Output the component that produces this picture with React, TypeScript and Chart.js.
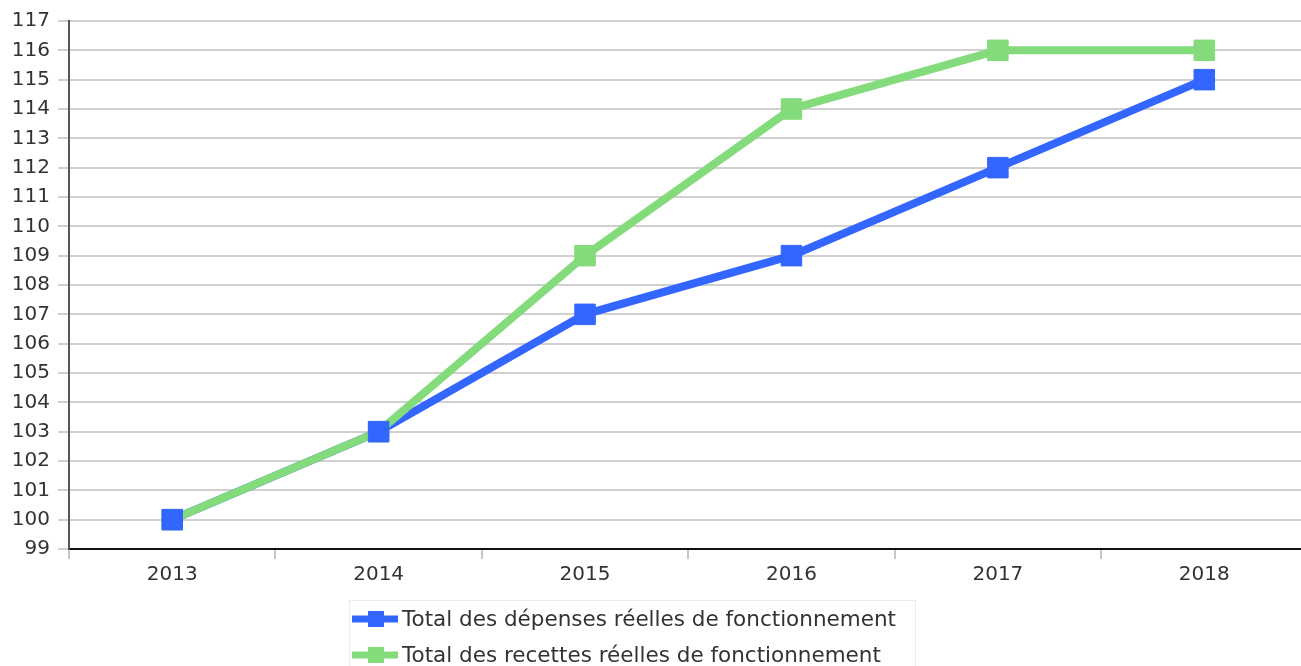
import React, { useEffect, useRef } from "react";
import { Chart, registerables } from "chart.js";

Chart.register(...registerables);

// Years on the horizontal axis
const CATEGORIES: string[] = ["2013", "2014", "2015", "2016", "2017", "2018"];

// Index base 100 in 2013
const DEPENSES: number[] = [100, 103, 107, 109, 112, 115];
const RECETTES: number[] = [100, 103, 109, 114, 116, 116];

const LABEL_DEPENSES = "Total des dépenses réelles de fonctionnement";
const LABEL_RECETTES = "Total des recettes réelles de fonctionnement";

const Y_MIN = 99;
const Y_MAX = 117;

const BLUE = "#3366FF";
const GREEN = "#84DB7B";
const FONT = "'DejaVu Sans', sans-serif";
const TEXT = "#333333";

// Legend drawn as a stacked box under the plot
const legendPlugin = {
  id: "stackedLegend",
  afterDraw(chart: any) {
    const ctx: CanvasRenderingContext2D = chart.ctx;
    const items = [
      { label: LABEL_DEPENSES, color: BLUE },
      { label: LABEL_RECETTES, color: GREEN },
    ];
    const left = 349;
    const top = 600;
    ctx.save();
    ctx.strokeStyle = "#ececec";
    ctx.lineWidth = 1;
    ctx.strokeRect(left + 0.5, top + 0.5, 566, 90);
    ctx.font = `21.5px ${FONT}`;
    ctx.textBaseline = "middle";
    ctx.textAlign = "left";
    items.forEach((it, i) => {
      const cy = top + 19 + i * 36;
      ctx.fillStyle = it.color;
      ctx.fillRect(left + 3, cy - 3.5, 46, 7);
      ctx.fillRect(left + 19, cy - 8, 16, 16);
      ctx.fillStyle = TEXT;
      ctx.fillText(it.label, left + 53, cy + 1);
    });
    ctx.restore();
  },
};

export default function App() {
  const canvasRef = useRef<HTMLCanvasElement | null>(null);

  useEffect(() => {
    if (!canvasRef.current) return;
    Chart.defaults.font.family = FONT;
    const chart = new Chart(canvasRef.current, {
      type: "line",
      data: {
        labels: CATEGORIES,
        datasets: [
          {
            label: LABEL_DEPENSES,
            data: DEPENSES,
            borderColor: BLUE,
            backgroundColor: BLUE,
            borderWidth: 8,
            pointRadius: 0,
            pointHoverRadius: 0,
            tension: 0,
            order: 3,
          },
          {
            label: LABEL_RECETTES,
            data: RECETTES,
            borderColor: GREEN,
            backgroundColor: GREEN,
            borderWidth: 8,
            pointStyle: "rect",
            pointRadius: 14.5,
            pointBorderWidth: 1,
            pointBorderColor: GREEN,
            pointBackgroundColor: GREEN,
            tension: 0,
            order: 2,
          },
          {
            // markers of the expenses series, kept above every line
            label: LABEL_DEPENSES + " (marqueurs)",
            data: DEPENSES,
            showLine: false,
            borderColor: BLUE,
            backgroundColor: BLUE,
            pointStyle: "rect",
            pointRadius: 14.5,
            pointBorderWidth: 1,
            pointBorderColor: BLUE,
            pointBackgroundColor: BLUE,
            order: 1,
          },
        ],
      },
      options: {
        responsive: false,
        animation: false,
        layout: { padding: { top: 21, right: 3, bottom: 77, left: 0 } },
        plugins: {
          legend: { display: false },
          tooltip: { enabled: false },
          title: { display: false },
        },
        scales: {
          x: {
            type: "category",
            offset: true,
            grid: {
              offset: true,
              drawOnChartArea: false,
              drawTicks: true,
              tickLength: 10,
              color: "#c8c8c8",
              lineWidth: 2,
            },
            border: { display: true, color: "#111111", width: 2 },
            ticks: {
              color: TEXT,
              font: { size: 20, family: FONT },
              padding: 4,
              maxRotation: 0,
            },
            afterFit(scale: any) {
              scale.height = 40;
            },
          },
          y: {
            min: Y_MIN,
            max: Y_MAX,
            grid: {
              color: "#d0d0d0",
              lineWidth: 2,
              tickLength: 11,
              drawTicks: true,
            },
            border: { display: true, color: "#555555", width: 2 },
            ticks: {
              stepSize: 1,
              color: TEXT,
              font: { size: 20, family: FONT },
              padding: 8,
            },
            afterFit(scale: any) {
              scale.width = 69;
            },
          },
        },
      },
      plugins: [legendPlugin],
    });
    return () => chart.destroy();
  }, []);

  return (
    <div
      style={{
        position: "fixed",
        left: 0,
        top: 0,
        width: 1301,
        height: 666,
        overflow: "hidden",
        background: "#ffffff",
      }}
    >
      <canvas
        ref={canvasRef}
        width={1323}
        height={666}
        style={{ display: "block", width: 1323, height: 666 }}
      />
    </div>
  );
}
